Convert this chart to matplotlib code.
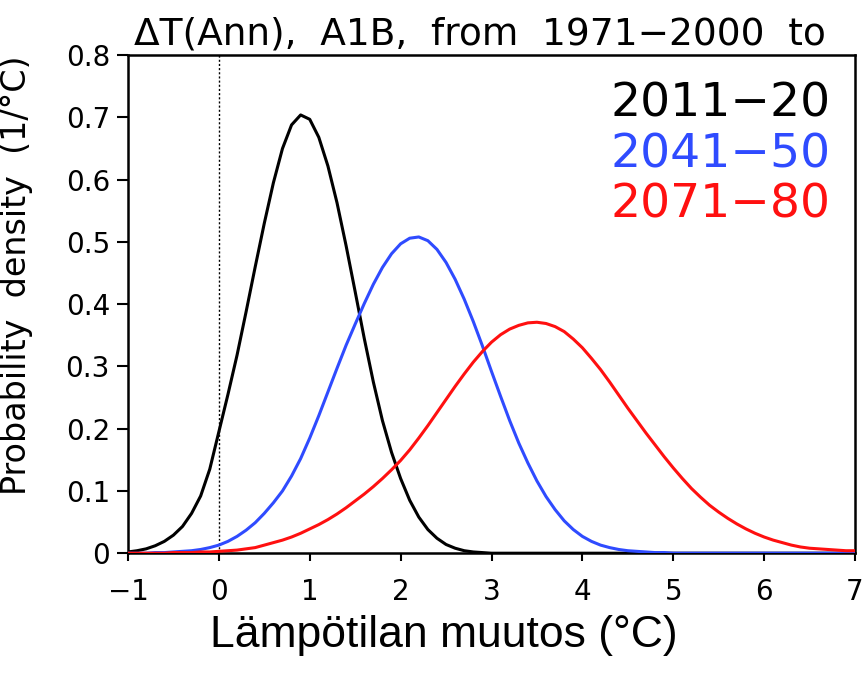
import numpy as np
import matplotlib
matplotlib.use('Agg')
import matplotlib.pyplot as plt
from matplotlib.ticker import FuncFormatter

# temperature change grid (°C), 0.1 step from -1 to 7
temp = np.round(np.arange(-1.0, 7.05, 0.1), 1)

# probability density, one value per grid point
dens_2011 = [0.002, 0.004, 0.007, 0.012, 0.019, 0.029, 0.043, 0.064, 0.092, 0.135,
             0.195, 0.255, 0.318, 0.388, 0.460, 0.530, 0.595, 0.650, 0.688, 0.704,
             0.697, 0.668, 0.622, 0.563, 0.494, 0.420, 0.345, 0.275, 0.213, 0.162,
             0.120, 0.085, 0.058, 0.038, 0.024, 0.014, 0.008, 0.004, 0.002, 0.001,
             0.000] + [0.0] * 40
dens_2041 = [0.000, 0.000, 0.000, 0.001, 0.001, 0.002, 0.003, 0.004, 0.006, 0.009,
             0.013, 0.019, 0.027, 0.037, 0.049, 0.064, 0.081, 0.100, 0.124, 0.152,
             0.185, 0.221, 0.259, 0.297, 0.334, 0.368, 0.401, 0.432, 0.459, 0.481,
             0.497, 0.506, 0.508, 0.502, 0.488, 0.467, 0.440, 0.408, 0.372, 0.333,
             0.292, 0.252, 0.213, 0.177, 0.145, 0.116, 0.091, 0.070, 0.052, 0.038,
             0.027, 0.019, 0.013, 0.009, 0.006, 0.004, 0.003, 0.002, 0.001, 0.001,
             0.000] + [0.0] * 20
dens_2071 = [0.000, 0.000, 0.000, 0.000, 0.000, 0.001, 0.001, 0.001, 0.002, 0.002,
             0.003, 0.004, 0.005, 0.007, 0.009, 0.013, 0.017, 0.021, 0.026, 0.032,
             0.039, 0.046, 0.054, 0.063, 0.073, 0.084, 0.095, 0.107, 0.120, 0.134,
             0.149, 0.166, 0.185, 0.205, 0.226, 0.247, 0.268, 0.288, 0.307, 0.324,
             0.339, 0.351, 0.360, 0.366, 0.370, 0.371, 0.369, 0.364, 0.356, 0.344,
             0.330, 0.313, 0.295, 0.275, 0.254, 0.233, 0.213, 0.193, 0.174, 0.155,
             0.137, 0.120, 0.104, 0.090, 0.077, 0.066, 0.056, 0.047, 0.039, 0.032,
             0.026, 0.021, 0.017, 0.013, 0.010, 0.008, 0.007, 0.006, 0.005, 0.004,
             0.004]

periods = ['2011\u221220', '2041\u221250', '2071\u221280']
colors = ['black', '#2f4bff', '#ff1010']

fig = plt.figure(figsize=(8.67, 6.73), dpi=100)
ax = fig.add_axes([0.1476, 0.178, 0.8386, 0.740])

ax.axvline(0, color='black', lw=1.0, ls=(0, (1.5, 1.5)), zorder=1)
for dens, c in zip([dens_2011, dens_2041, dens_2071], colors):
    ax.plot(temp, dens, color=c, lw=2.2, zorder=3)

ax.set_xlim(-1, 7)
ax.set_ylim(0, 0.8)
ax.set_xticks(range(-1, 8))
ax.set_yticks(np.arange(0, 0.81, 0.1))
ax.yaxis.set_major_formatter(FuncFormatter(lambda v, p: '0' if abs(v) < 1e-9 else f'{v:.1f}'))
ax.tick_params(direction='out', width=1.5, labelsize=20)
ax.tick_params(axis='y', length=8, pad=5)
ax.tick_params(axis='x', length=6, pad=12)
for s in ax.spines.values():
    s.set_linewidth(1.8)

ax.set_ylabel('Probability  density  (1/\u00b0C)', fontsize=24)
ax.yaxis.set_label_coords(-0.130, 0.558)

# period labels in the upper right
for i, (p, c) in enumerate(zip(periods, colors)):
    ax.text(0.966, 0.876 - i * 0.101, p, color=c, fontsize=34,
            ha='right', va='baseline', transform=ax.transAxes)

fig.text(0.554, 0.934, '\u0394T(Ann),  A1B,  from  1971\u22122000  to',
         fontsize=27, ha='center', va='baseline')

fig.text(0.512, 0.056, 'L\u00e4mp\u00f6tilan muutos (\u00b0C)', fontsize=32,
         family='Liberation Sans', ha='center', va='center')

fig.savefig('out.png', dpi=100)
